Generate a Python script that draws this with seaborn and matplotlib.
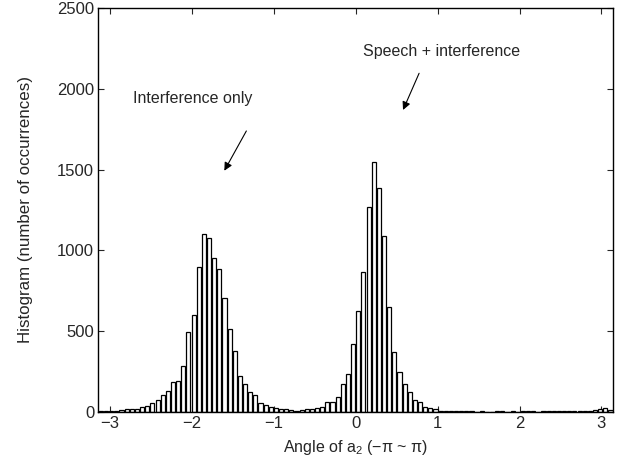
import numpy as np
import pandas as pd
import matplotlib
matplotlib.use("Agg")
import matplotlib.pyplot as plt
import seaborn as sns

# ---- data ----
n_bins = 100
counts = [
    4, 5, 6, 8, 12, 16, 16, 20, 33, 37,            # 0-9
    56, 77, 106, 131, 183, 191, 283, 497, 603, 897,  # 10-19
    1102, 1079, 955, 883, 705, 516, 378, 220, 175, 123,  # 20-29
    108, 58, 45, 30, 24, 17, 17, 11, 7, 10,        # 30-39
    16, 19, 25, 31, 64, 62, 92, 171, 233, 421,     # 40-49
    627, 866, 1269, 1547, 1384, 1091, 650, 369, 245, 173,  # 50-59
    122, 72, 60, 32, 22, 17, 6, 6, 8, 5,           # 60-69
    4, 4, 5, 3, 4, 3, 3, 4, 4, 3,                  # 70-79
    4, 3, 4, 5, 4, 3, 4, 4, 5, 5,                  # 80-89
    6, 5, 6, 7, 8, 8, 14, 18, 24, 12,              # 90-99
]
xticks = [-3, -2, -1, 0, 1, 2, 3]
yticks = [0, 500, 1000, 1500, 2000, 2500]
label_interf = "Interference only"
label_speech = "Speech + interference"
xlabel = "Angle of a$_{2}$ (\u2212\u03c0 ~ \u03c0)"
ylabel = "Histogram (number of occurrences)"

edges = np.linspace(-np.pi, np.pi, n_bins + 1)
centers = 0.5 * (edges[:-1] + edges[1:])
df = pd.DataFrame({"angle": centers, "count": counts})

sns.set_style("ticks")
plt.rcParams["font.family"] = ["Liberation Sans", "DejaVu Sans"]
plt.rcParams["mathtext.fontset"] = "custom"
plt.rcParams["mathtext.rm"] = "Liberation Sans"
plt.rcParams["mathtext.it"] = "Liberation Sans"
plt.rcParams["xtick.direction"] = "in"
plt.rcParams["ytick.direction"] = "in"

fig = plt.figure(figsize=(6.27, 4.70), dpi=100)
ax = fig.add_axes([0.1569, 0.1234, 0.8208, 0.8596])

sns.histplot(data=df, x="angle", weights="count", bins=n_bins,
             binrange=(-np.pi, np.pi), shrink=0.8,
             color="white", edgecolor="black", linewidth=0.9, alpha=1,
             ax=ax)

ax.set_xlim(-np.pi, np.pi)
ax.set_ylim(0, 2500)
ax.set_xticks(xticks)
ax.set_yticks(yticks)
ax.tick_params(axis="both", labelsize=12, length=4, width=0.8,
               top=True, right=True, direction="in", pad=3)
for s in ax.spines.values():
    s.set_visible(True)
    s.set_linewidth(1.0)
    s.set_color("black")

ax.set_xlabel(xlabel, fontsize=11.5, labelpad=5)
ax.set_ylabel(ylabel, fontsize=12.2, labelpad=17)

ax.text(-2.722, 1943, label_interf, fontsize=11.5, ha="left", va="center")
ax.annotate("", xy=(-1.604, 1493), xytext=(-1.335, 1739),
            arrowprops=dict(arrowstyle="-|>", color="black", lw=0.8,
                            mutation_scale=12, shrinkA=0, shrinkB=0))
ax.text(0.093, 2230, label_speech, fontsize=11.5, ha="left", va="center")
ax.annotate("", xy=(0.578, 1869), xytext=(0.774, 2096),
            arrowprops=dict(arrowstyle="-|>", color="black", lw=0.8,
                            mutation_scale=12, shrinkA=0, shrinkB=0))

fig.savefig("out.png", dpi=100)
